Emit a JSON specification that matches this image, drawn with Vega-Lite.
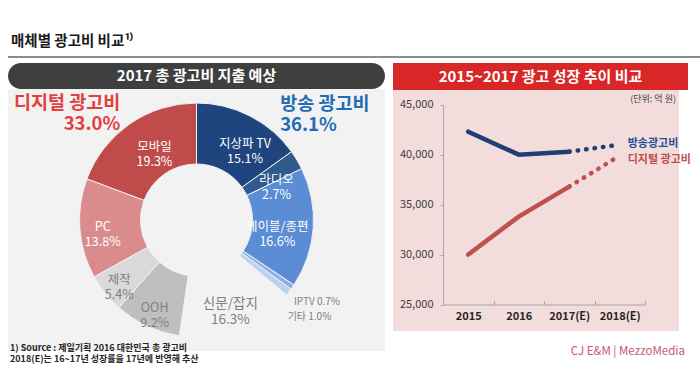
{
  "$schema": "https://vega.github.io/schema/vega-lite/v6.json",
  "background": "white",
  "padding": {"left": 8, "top": 33, "right": 0, "bottom": 0},
  "config": {"font": "Noto Sans CJK KR", "view": {"stroke": null}},
  "title": {"text": "매체별 광고비 비교¹⁾", "anchor": "start", "fontSize": 14.5, "fontWeight": "bold", "color": "#1a1a1a", "offset": 7, "dx": 3, "frame": "group"},
  "resolve": {"scale": {"color": "independent"}},
  "spacing": 5,
  "vconcat": [
    {
      "width": 692, "height": 2,
      "view": {"fill": "#8c8c8c", "stroke": null},
      "data": {"values": [{}]},
      "mark": {"type": "text", "text": "", "fontSize": 0},
      "encoding": {}
    },
    {
      "spacing": 8,
      "resolve": {"scale": {"color": "independent"}},
      "hconcat": [
        {
          "spacing": 0,
          "vconcat": [
            {
              "width": 377, "height": 26,
              "view": {"fill": "#3f3f3f", "cornerRadius": 13, "stroke": null},
              "data": {"values": [{"t": "2017 총 광고비 지출 예상"}]},
              "mark": {"type": "text", "color": "white", "fontSize": 15, "fontWeight": "bold"},
              "encoding": {"text": {"field": "t"}}
            },
            {
              "width": 377, "height": 262,
              "view": {"fill": "#f2f2f2", "stroke": null},
              "title": {"text": ["1) Source : 제일기획 2016 대한민국 총 광고비", "\u3000 2018(E)는 16~17년 성장률을 17년에 반영해 추산"], "orient": "bottom", "anchor": "start", "frame": "group", "fontSize": 9, "fontWeight": "bold", "color": "#262626", "offset": -20, "lineHeight": 11, "dx": 2},
              "data": {"values": [
                {"cat": "지상파 TV", "pct": 15.1, "ord": 1, "label": "지상파 TV\n15.1%"},
                {"cat": "라디오", "pct": 2.7, "ord": 2, "label": "라디오\n2.7%"},
                {"cat": "케이블/종편", "pct": 16.6, "ord": 3, "label": "케이블/종편\n16.6%"},
                {"cat": "IPTV", "pct": 0.7, "ord": 4, "label": "IPTV 0.7%"},
                {"cat": "기타", "pct": 1.0, "ord": 5, "label": "기타 1.0%"},
                {"cat": "신문/잡지", "pct": 16.3, "ord": 6, "label": "신문/잡지\n16.3%"},
                {"cat": "OOH", "pct": 9.2, "ord": 7, "label": "OOH\n9.2%"},
                {"cat": "제작", "pct": 5.4, "ord": 8, "label": "제작\n5.4%"},
                {"cat": "PC", "pct": 13.8, "ord": 9, "label": "PC\n13.8%"},
                {"cat": "모바일", "pct": 19.3, "ord": 10, "label": "모바일\n19.3%"}
              ]},
              "encoding": {
                "theta": {"field": "pct", "type": "quantitative", "stack": true},
                "order": {"field": "ord", "type": "quantitative"},
                "detail": {"field": "cat", "type": "nominal"}
              },
              "layer": [
                {
                  "mark": {"type": "arc", "outerRadius": 117, "innerRadius": 56, "stroke": "#f2f2f2", "strokeWidth": 1},
                  "encoding": {
                    "color": {"field": "cat", "type": "nominal", "legend": null,
                      "scale": {"domain": ["지상파 TV", "라디오", "케이블/종편", "IPTV", "기타", "신문/잡지", "OOH", "제작", "PC", "모바일"],
                                "range": ["#1f447e", "#30598e", "#5b8dd5", "#8fb0e3", "#bcd0ef", "#f2f2f2", "#bfbfbf", "#d9d9d9", "#da8c8c", "#bf4b4b"]}}
                  }
                },
                {
                  "mark": {"type": "text", "radius": 88, "thetaOffset": 0.11, "dy": -3, "color": "white", "lineBreak": "\n", "lineHeight": 15},
                  "encoding": {
                    "text": {"condition": {"test": "datum.cat == '지상파 TV' || datum.cat == '라디오'", "field": "label"}, "value": ""},
                    "size": {"condition": {"test": "datum.cat == '지상파 TV' || datum.cat == '라디오'", "value": 12.5}, "value": 0}
                  }
                },
                {
                  "mark": {"type": "text", "radius": 81, "dy": 1.5, "color": "white", "lineBreak": "\n", "lineHeight": 15},
                  "encoding": {
                    "text": {"condition": {"test": "datum.cat == '케이블/종편'", "field": "label"}, "value": ""},
                    "size": {"condition": {"test": "datum.cat == '케이블/종편'", "value": 12.5}, "value": 0}
                  }
                },
                {
                  "mark": {"type": "text", "radius": 81, "thetaOffset": 0.06, "dy": -3.5, "color": "white", "lineBreak": "\n", "lineHeight": 15},
                  "encoding": {
                    "text": {"condition": {"test": "datum.cat == '모바일'", "field": "label"}, "value": ""},
                    "size": {"condition": {"test": "datum.cat == '모바일'", "value": 12.5}, "value": 0}
                  }
                },
                {
                  "mark": {"type": "text", "radius": 94, "color": "white", "lineBreak": "\n", "lineHeight": 15},
                  "encoding": {
                    "text": {"condition": {"test": "datum.cat == 'PC'", "field": "label"}, "value": ""},
                    "size": {"condition": {"test": "datum.cat == 'PC'", "value": 12.5}, "value": 0}
                  }
                },
                {
                  "mark": {"type": "text", "radius": 91.5, "thetaOffset": -0.05, "dx": -3, "color": "#7f7f7f", "lineBreak": "\n", "lineHeight": 16},
                  "encoding": {
                    "text": {"condition": {"test": "datum.cat == '신문/잡지'", "field": "label"}, "value": ""},
                    "size": {"condition": {"test": "datum.cat == '신문/잡지'", "value": 13.5}, "value": 0}
                  }
                },
                {
                  "mark": {"type": "text", "radius": 99, "dy": -2, "color": "#7f7f7f", "lineBreak": "\n", "lineHeight": 15},
                  "encoding": {
                    "text": {"condition": {"test": "datum.cat == 'OOH' || datum.cat == '제작'", "field": "label"}, "value": ""},
                    "size": {"condition": {"test": "datum.cat == 'OOH' || datum.cat == '제작'", "value": 12.5}, "value": 0}
                  }
                },
                {
                  "mark": {"type": "text", "radius": 146, "thetaOffset": -0.01, "color": "#7f7f7f"},
                  "encoding": {
                    "text": {"condition": {"test": "datum.cat == 'IPTV'", "field": "label"}, "value": ""},
                    "size": {"condition": {"test": "datum.cat == 'IPTV'", "value": 10}, "value": 0}
                  }
                },
                {
                  "mark": {"type": "text", "radius": 146, "dy": 7.4, "dx": -2, "color": "#7f7f7f"},
                  "encoding": {
                    "text": {"condition": {"test": "datum.cat == '기타'", "field": "label"}, "value": ""},
                    "size": {"condition": {"test": "datum.cat == '기타'", "value": 10}, "value": 0}
                  }
                },
                {
                  "mark": {"type": "text", "radius": 134, "dy": -6.5, "fontWeight": "bold", "color": "#e2403e", "align": "right", "lineBreak": "\n", "lineHeight": 21},
                  "encoding": {
                    "text": {"condition": {"test": "datum.cat == '모바일'", "value": "디지털 광고비\n33.0%"}, "value": ""},
                    "size": {"condition": {"test": "datum.cat == '모바일'", "value": 18.5}, "value": 0}
                  }
                },
                {
                  "mark": {"type": "text", "radius": 143, "thetaOffset": 0.151, "fontWeight": "bold", "color": "#1f6db5", "align": "left", "lineBreak": "\n", "lineHeight": 21},
                  "encoding": {
                    "text": {"condition": {"test": "datum.cat == '지상파 TV'", "value": "방송 광고비\n36.1%"}, "value": ""},
                    "size": {"condition": {"test": "datum.cat == '지상파 TV'", "value": 18.5}, "value": 0}
                  }
                }
              ]
            }
          ]
        },
        {
          "spacing": 0,
          "title": {"text": "CJ E&M | MezzoMedia", "orient": "bottom", "anchor": "end", "fontSize": 11.5, "fontWeight": "normal", "color": "#c85a6e", "offset": 15, "dx": -6},
          "vconcat": [
            {
              "width": 295, "height": 27,
              "view": {"fill": "#d92626", "stroke": null},
              "data": {"values": [{"t": "2015~2017 광고 성장 추이 비교"}]},
              "mark": {"type": "text", "color": "white", "fontSize": 15, "fontWeight": "bold"},
              "encoding": {"text": {"field": "t"}}
            },
            {
              "width": 286, "height": 241,
              "view": {"fill": "#f2dcdc", "stroke": null},
              "title": {"text": "(단위: 억 원)", "orient": "top", "anchor": "end", "frame": "group", "fontSize": 9, "fontWeight": "normal", "color": "#404040", "offset": -14, "dx": -3},
              "data": {"values": [
                {"yr": "2015", "v": 42300, "s": "방송광고비", "seg": "actual"},
                {"yr": "2016", "v": 40000, "s": "방송광고비", "seg": "actual"},
                {"yr": "2017(E)", "v": 40300, "s": "방송광고비", "seg": "actual"},
                {"yr": "2017(E)", "v": 40300, "s": "방송광고비", "seg": "forecast"},
                {"yr": "2018(E)", "v": 41000, "s": "방송광고비", "seg": "forecast"},
                {"yr": "2015", "v": 30000, "s": "디지털 광고비", "seg": "actual"},
                {"yr": "2016", "v": 33800, "s": "디지털 광고비", "seg": "actual"},
                {"yr": "2017(E)", "v": 36800, "s": "디지털 광고비", "seg": "actual"},
                {"yr": "2017(E)", "v": 36800, "s": "디지털 광고비", "seg": "forecast"},
                {"yr": "2018(E)", "v": 39900, "s": "디지털 광고비", "seg": "forecast"}
              ]},
              "encoding": {
                "x": {"field": "yr", "type": "ordinal",
                  "scale": {"type": "band", "domain": ["2015", "2016", "2017(E)", "2018(E)"], "range": [50, 252], "paddingInner": 0, "paddingOuter": 0},
                  "axis": {"title": null, "labelAngle": 0, "offset": -26.5, "tickBand": "extent", "tickSize": -4, "labelPadding": 10, "labelFontSize": 11, "labelFontWeight": "bold", "labelColor": "#262626", "domainColor": "#a6a6a6", "tickColor": "#a6a6a6"}},
                "y": {"field": "v", "type": "quantitative",
                  "scale": {"domain": [25000, 45000], "range": [214.5, 14.7], "nice": false, "zero": false},
                  "axis": {"title": null, "values": [25000, 30000, 35000, 40000, 45000], "format": ",d", "grid": false, "offset": -50, "tickSize": 3, "labelPadding": 7, "labelFontSize": 11, "labelColor": "#404040", "domainColor": "#a6a6a6", "tickColor": "#a6a6a6"}},
                "color": {"field": "s", "type": "nominal", "legend": null,
                  "scale": {"domain": ["방송광고비", "디지털 광고비"], "range": ["#1f3f74", "#c0504d"]}}
              },
              "layer": [
                {
                  "transform": [{"filter": "datum.seg == 'actual'"}],
                  "mark": {"type": "line", "strokeWidth": 4.5, "strokeCap": "round"},
                  "encoding": {"detail": {"field": "s"}}
                },
                {
                  "transform": [{"filter": "datum.seg == 'forecast'"}],
                  "mark": {"type": "line", "strokeWidth": 4.5, "strokeCap": "round", "strokeDash": [0.5, 8]},
                  "encoding": {"detail": {"field": "s"}}
                },
                {
                  "transform": [{"filter": "datum.seg == 'forecast' && datum.yr == '2018(E)' && datum.s == '방송광고비'"}],
                  "mark": {"type": "text", "align": "left", "dx": 8, "dy": -1, "fontSize": 11, "fontWeight": "bold"},
                  "encoding": {"text": {"field": "s"}, "color": {"value": "#1f4e9b"}}
                },
                {
                  "transform": [{"filter": "datum.seg == 'forecast' && datum.yr == '2018(E)' && datum.s == '디지털 광고비'"}],
                  "mark": {"type": "text", "align": "left", "dx": 8, "dy": 4, "fontSize": 11, "fontWeight": "bold"},
                  "encoding": {"text": {"field": "s"}, "color": {"value": "#c0504d"}}
                }
              ]
            }
          ]
        }
      ]
    }
  ]
}
